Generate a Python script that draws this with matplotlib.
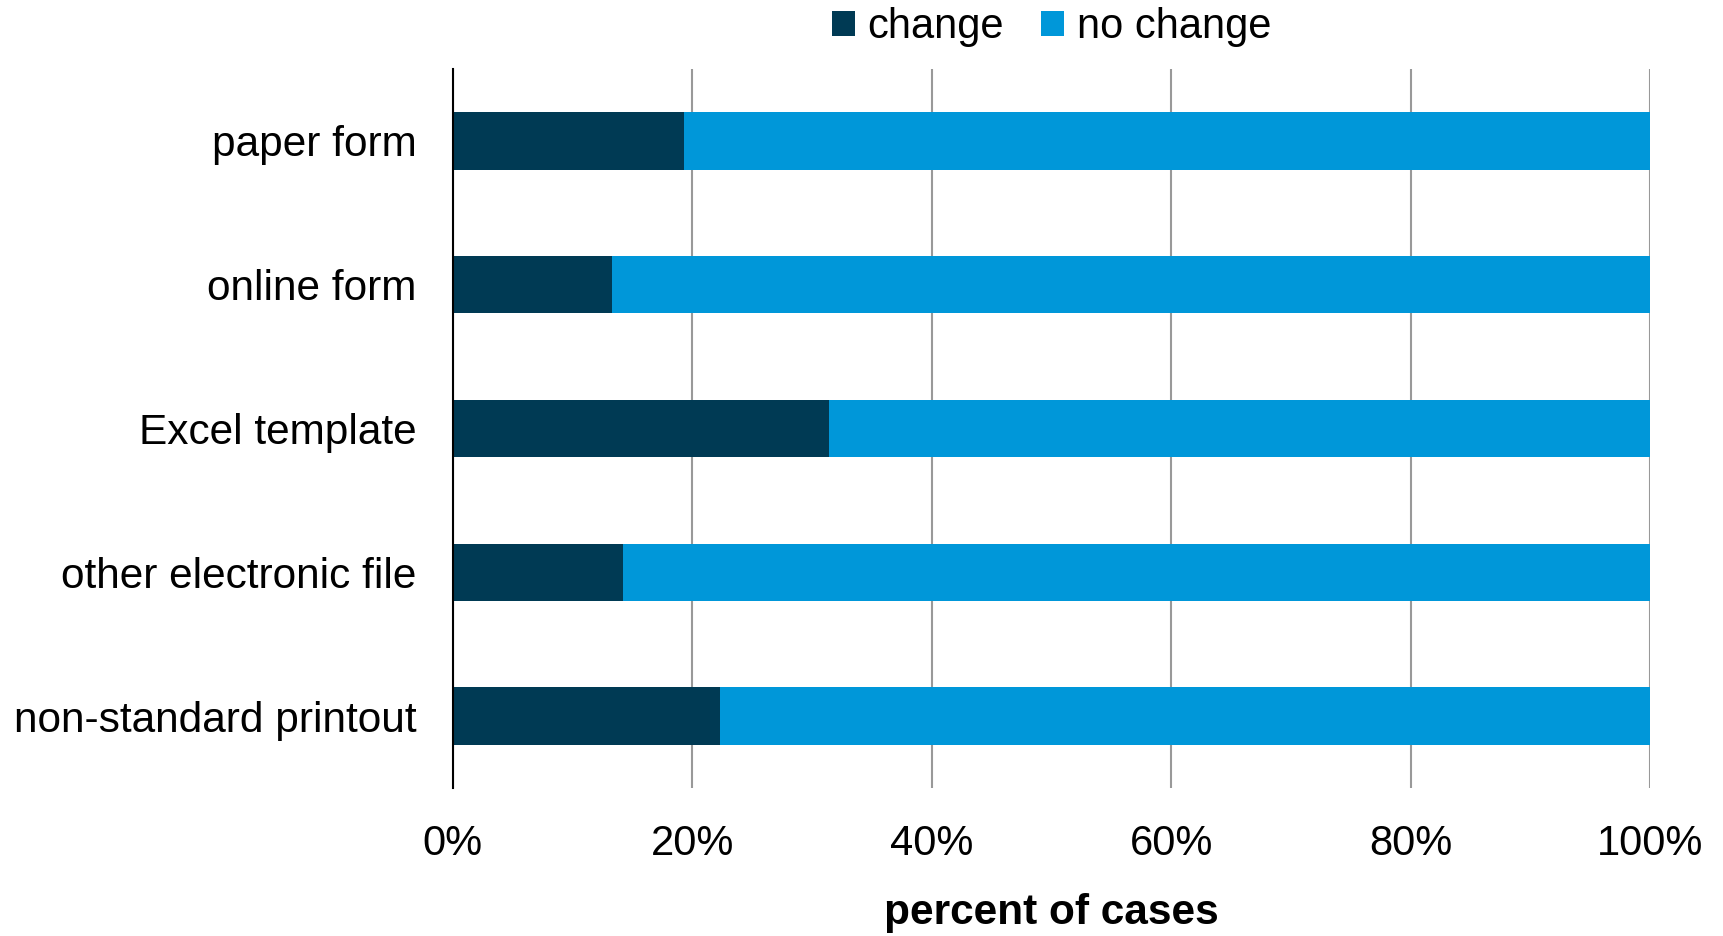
import matplotlib.pyplot as plt
from matplotlib.ticker import PercentFormatter

plt.rcParams['font.family'] = ['Liberation Sans', 'DejaVu Sans']

# share of cases per submission type (percent)
categories = ['paper form', 'online form', 'Excel template',
              'other electronic file', 'non-standard printout']
change = [19.3, 13.3, 31.45, 14.2, 22.35]
no_change = [100 - c for c in change]

dark = '#003a54'
light = '#0097d9'

fig = plt.figure(figsize=(17.23, 9.36), dpi=100)
ax = fig.add_axes([0.2627, 0.1581, 0.6950, 0.7682])

y = list(range(len(categories)))
ax.barh(y, change, height=0.4, color=dark, label='change')
ax.barh(y, no_change, left=change, height=0.4, color=light, label='no change')

ax.set_xlim(0, 100)
ax.set_ylim(len(categories) - 0.5, -0.5)
ax.set_yticks(y)
ax.set_yticklabels(categories, fontsize=30.5)
ax.set_xticks([0, 20, 40, 60, 80, 100])
ax.xaxis.set_major_formatter(PercentFormatter(decimals=0))
ax.tick_params(axis='x', labelsize=30, length=0, pad=26)
ax.tick_params(axis='y', length=0, pad=26)

ax.grid(axis='x', color='#999999', linewidth=1.5)
ax.set_axisbelow(True)
for s in ['top', 'right', 'bottom']:
    ax.spines[s].set_visible(False)
ax.spines['left'].set_color('black')
ax.spines['left'].set_linewidth(1.5)

ax.set_xlabel('percent of cases', fontsize=30.5, fontweight='bold', labelpad=21)

ax.legend(loc='lower center', bbox_to_anchor=(0.5, 1.03), ncol=2, frameon=False,
          fontsize=30, handlelength=0.55, handleheight=0.55, handletextpad=0.3,
          columnspacing=0.9, borderaxespad=0, borderpad=0)

fig.savefig('out.png', dpi=100)
